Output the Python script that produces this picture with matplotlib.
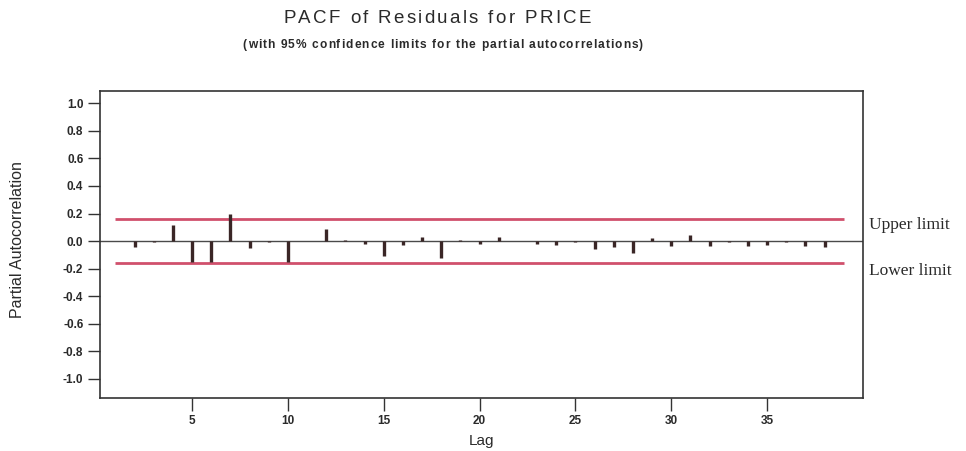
import numpy as np
import matplotlib
matplotlib.use("Agg")
import matplotlib.pyplot as plt
from matplotlib.font_manager import FontProperties, findfont
from matplotlib.ft2font import FT2Font

W, H, DPI = 966, 451, 100

# partial autocorrelations of the residuals, lags 1..38
lags = list(range(1, 39))
pacf = [0.0, -0.04, -0.01, 0.115, -0.15, -0.15, 0.20, -0.05, -0.005, -0.155,
        0.0, 0.085, 0.01, -0.02, -0.11, -0.03, 0.03, -0.12, 0.005, -0.02,
        0.03, 0.0, -0.02, -0.03, -0.005, -0.06, -0.045, -0.09, 0.02, -0.035,
        0.045, -0.035, -0.005, -0.035, -0.03, -0.005, -0.035, -0.045]
conf_limit = 0.163  # 95% limits, +/- 1.96/sqrt(n)

x_ticks = [5, 10, 15, 20, 25, 30, 35]
y_ticks = [1.0, 0.8, 0.6, 0.4, 0.2, 0.0, -0.2, -0.4, -0.6, -0.8, -1.0]
y_tick_labels = ["1.0", "0.8", "0.6", "0.4", "0.2", "0.0",
                 "-0.2", "-0.4", "-0.6", "-0.8", "-1.0"]

SANS = "Liberation Sans"
SERIF = "Liberation Serif"
INK = "#2a2a2a"


def tracked_text(fig, xc, y, s, size, track, weight="normal", color=INK):
    """Centered text with extra letter spacing; xc, y (baseline) in pixels from top-left."""
    fp = FontProperties(family=SANS, weight=weight, size=size)
    font = FT2Font(findfont(fp))
    font.set_size(size, DPI)
    adv = [font.load_char(ord(ch)).linearHoriAdvance / 65536 for ch in s]
    total = sum(adv) + track * (len(s) - 1)
    x = xc - total / 2
    for ch, a in zip(s, adv):
        if ch != " ":
            fig.text(x / W, 1 - y / H, ch, fontproperties=fp, color=color,
                     ha="left", va="baseline")
        x += a + track


fig = plt.figure(figsize=(W / DPI, H / DPI), dpi=DPI, facecolor="white")
ax = fig.add_axes([100 / W, (H - 398) / H, 763 / W, 307 / H])
ax.set_xlim(0.2, 40.0)
ax.set_ylim(-1.14, 1.09)

# zero line, spikes and confidence limits
ax.axhline(0, color="#4a4a4a", lw=1.0, zorder=1)
ax.vlines(lags, 0, pacf, color="#3a2626", lw=2.4, zorder=3)
ax.hlines([conf_limit, -conf_limit], 1, 39, color="#d0506c", lw=2.0, zorder=2)

ax.text(40.3, 0.12, "Upper limit", family=SERIF, fontsize=12.5, color=INK,
        ha="left", va="center")
ax.text(40.3, -0.22, "Lower limit", family=SERIF, fontsize=12.5, color=INK,
        ha="left", va="center")

for sp in ax.spines.values():
    sp.set_color("#333333")
    sp.set_linewidth(1.2)

ax.set_xticks(x_ticks)
ax.set_xticklabels([str(t) for t in x_ticks])
ax.set_yticks(y_ticks)
ax.set_yticklabels(y_tick_labels)
ax.tick_params(direction="out", length=9, width=1, pad=3, colors="#333333",
               labelsize=8.5)
for lab in ax.get_xticklabels() + ax.get_yticklabels():
    lab.set_family(SANS)
    lab.set_fontweight("bold")
    lab.set_color(INK)

ax.set_xlabel("Lag", family=SANS, fontsize=11, color=INK, labelpad=5)
fig.text(18 / W, 1 - 240 / H, "Partial Autocorrelation", family=SANS,
         fontsize=11.5, color=INK, rotation=90, ha="center", va="center")

tracked_text(fig, 437, 23, "PACF of Residuals for PRICE", 13.5, 2.3)
tracked_text(fig, 443, 48,
             "(with 95% confidence limits for the partial autocorrelations)",
             8.6, 1.1, weight="bold")

fig.savefig("out.png", dpi=DPI, facecolor="white")
